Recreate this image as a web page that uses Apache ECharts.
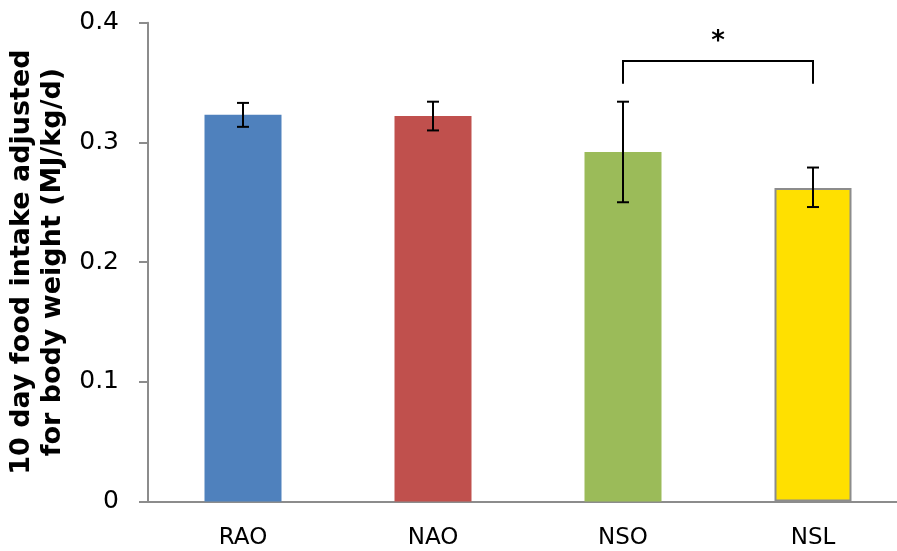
<!DOCTYPE html>
<html>
<head>
<meta charset="utf-8">
<script src="https://cdn.jsdelivr.net/npm/echarts@6/dist/echarts.min.js"></script>
<style>html,body{margin:0;padding:0;background:#fff;}#c{width:897px;height:551px;}</style>
</head>
<body>
<div id="c"></div>
<script>
var categories = ['RAO', 'NAO', 'NSO', 'NSL'];
var means = [0.323, 0.322, 0.292, 0.262];
var errLow = [0.313, 0.310, 0.250, 0.246];
var errHigh = [0.333, 0.334, 0.334, 0.279];
var barColors = ['#4F81BD', '#C0504D', '#9BBB59', '#FFE000'];
var sigPair = [2, 3];
var sigTop = 0.368;
var sigBottom = 0.349;
var sigStarLevel = 0.384;
var sigLabel = '*';

var chart = echarts.init(document.getElementById('c'));
var barData = means.map(function (v, i) {
  var it = { value: v, itemStyle: { color: barColors[i] } };
  if (i === 3) { it.itemStyle.borderColor = '#8C8C8C'; it.itemStyle.borderWidth = 2; }
  return it;
});
var errData = categories.map(function (c, i) { return [i, errLow[i], errHigh[i]]; });

chart.setOption({
  animation: false,
  grid: { left: 148, top: 22.7, right: -11, bottom: 49.5, containLabel: false, outerBoundsMode: 'none' },
  xAxis: {
    type: 'category',
    data: categories,
    axisLine: { lineStyle: { color: '#8C8C8C', width: 2 } },
    axisTick: { show: false },
    axisLabel: { color: '#000', fontSize: 23, fontFamily: 'DejaVu Sans', margin: 25 }
  },
  yAxis: {
    type: 'value',
    min: 0, max: 0.4, interval: 0.1,
    name: '10 day food intake adjusted\nfor body weight (MJ/kg/d)',
    nameLocation: 'middle',
    nameRotate: 90,
    nameGap: 79,
    nameTextStyle: { color: '#000', fontSize: 27, fontWeight: 'bold', fontFamily: 'DejaVu Sans', lineHeight: 31 },
    axisLine: { show: true, lineStyle: { color: '#8C8C8C', width: 2 } },
    axisTick: { show: true, length: 9, lineStyle: { color: '#8C8C8C', width: 2 } },
    axisLabel: { color: '#000', fontSize: 25, fontFamily: 'DejaVu Sans', margin: 29 },
    splitLine: { show: false }
  },
  series: [
    { type: 'bar', data: barData, barWidth: 77 },
    {
      type: 'custom',
      data: errData,
      z: 10,
      renderItem: function (params, api) {
        var i = api.value(0);
        var lo = api.coord([i, api.value(1)]);
        var hi = api.coord([i, api.value(2)]);
        var x = lo[0], hw = 6;
        var st = { stroke: '#000', lineWidth: 2 };
        return { type: 'group', children: [
          { type: 'line', shape: { x1: x, y1: lo[1], x2: x, y2: hi[1] }, style: st },
          { type: 'line', shape: { x1: x - hw, y1: lo[1], x2: x + hw, y2: lo[1] }, style: st },
          { type: 'line', shape: { x1: x - hw, y1: hi[1], x2: x + hw, y2: hi[1] }, style: st }
        ] };
      }
    },
    {
      type: 'custom',
      data: [[sigPair[0], sigPair[1], sigTop, sigBottom, sigStarLevel]],
      clip: false,
      z: 10,
      renderItem: function (params, api) {
        var a = api.coord([api.value(0), api.value(2)]);
        var b = api.coord([api.value(1), api.value(2)]);
        var a2 = api.coord([api.value(0), api.value(3)]);
        var s = api.coord([api.value(0), api.value(4)]);
        var st = { stroke: '#000', lineWidth: 2, fill: null };
        return { type: 'group', children: [
          { type: 'polyline', shape: { points: [[a[0], a2[1]], [a[0], a[1]], [b[0], b[1]], [b[0], a2[1]]] }, style: st },
          { type: 'text', style: { x: (a[0] + b[0]) / 2, y: s[1], text: sigLabel, fill: '#000',
            font: 'bold 26px DejaVu Sans', align: 'center', verticalAlign: 'middle' } }
        ] };
      }
    }
  ]
});
</script>
</body>
</html>
